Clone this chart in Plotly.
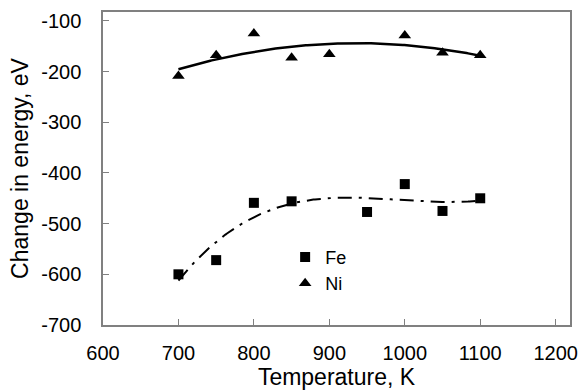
import numpy as np
import plotly.graph_objects as go

fe_temp = [700, 750, 800, 850, 950, 1000, 1050, 1100]
fe_energy = [-600, -572, -459, -456, -477, -422, -475, -450]
ni_temp = [700, 750, 800, 850, 900, 1000, 1050, 1100]
ni_energy = [-209, -168, -125, -173, -166, -129, -163, -168]
x_ticks = [600, 700, 800, 900, 1000, 1100, 1200]
y_ticks = [-700, -600, -500, -400, -300, -200, -100]
y_tick_text = ["-700", "-600", "-500", "-400", "-300", "-200", "-100"]

# polynomial trendlines (as in the spreadsheet chart)
ni_fit = np.poly1d(np.polyfit(ni_temp, ni_energy, 2))
fe_fit = np.poly1d(np.polyfit(fe_temp, fe_energy, 3))
xs = np.linspace(700, 1100, 200)

font = "Liberation Sans, Arial, sans-serif"
fig = go.Figure()
fig.add_trace(go.Scatter(x=xs, y=fe_fit(xs), mode="lines", showlegend=False,
                         line=dict(color="black", width=2, dash="14px,7px,3px,7px"),
                         hoverinfo="skip"))
fig.add_trace(go.Scatter(x=xs, y=ni_fit(xs), mode="lines", showlegend=False,
                         line=dict(color="black", width=2.5), hoverinfo="skip"))
fig.add_trace(go.Scatter(x=fe_temp, y=fe_energy, mode="markers", name="Fe",
                         marker=dict(symbol="square", size=10, color="black")))
fig.add_trace(go.Scatter(x=ni_temp, y=ni_energy, mode="markers", name="Ni",
                         marker=dict(symbol="triangle-up", size=11, color="black")))

axis_common = dict(showgrid=False, zeroline=False, showline=True, linecolor="#808080",
                   linewidth=1.5, mirror=True, ticks="inside", ticklen=6,
                   tickcolor="#808080", tickwidth=1.2,
                   tickfont=dict(family=font, size=20, color="black"))
fig.update_xaxes(range=[600, 1219], tickvals=x_ticks,
                 title=dict(text="Temperature, K", font=dict(family=font, size=23, color="black"),
                            standoff=0),
                 ticklabelstandoff=9, **axis_common)
fig.update_yaxes(range=[-700, -82.5], tickvals=y_ticks, ticktext=y_tick_text,
                 title=dict(text="Change in energy, eV", font=dict(family=font, size=23, color="black"),
                            standoff=6),
                 ticklabelstandoff=16, **axis_common)
fig.update_layout(width=588, height=390, margin=dict(l=103, r=10, t=11, b=60),
                  plot_bgcolor="white", paper_bgcolor="white",
                  legend=dict(x=0.39, y=0.175, xanchor="left", yanchor="middle",
                              font=dict(family=font, size=18, color="black"),
                              bgcolor="rgba(0,0,0,0)", itemwidth=30, tracegroupgap=0),
                  font=dict(family=font))
fig.write_html("out.html", config={"displayModeBar": False},
               post_script="document.body.style.margin='0';"
                           "document.body.style.overflow='hidden';")
